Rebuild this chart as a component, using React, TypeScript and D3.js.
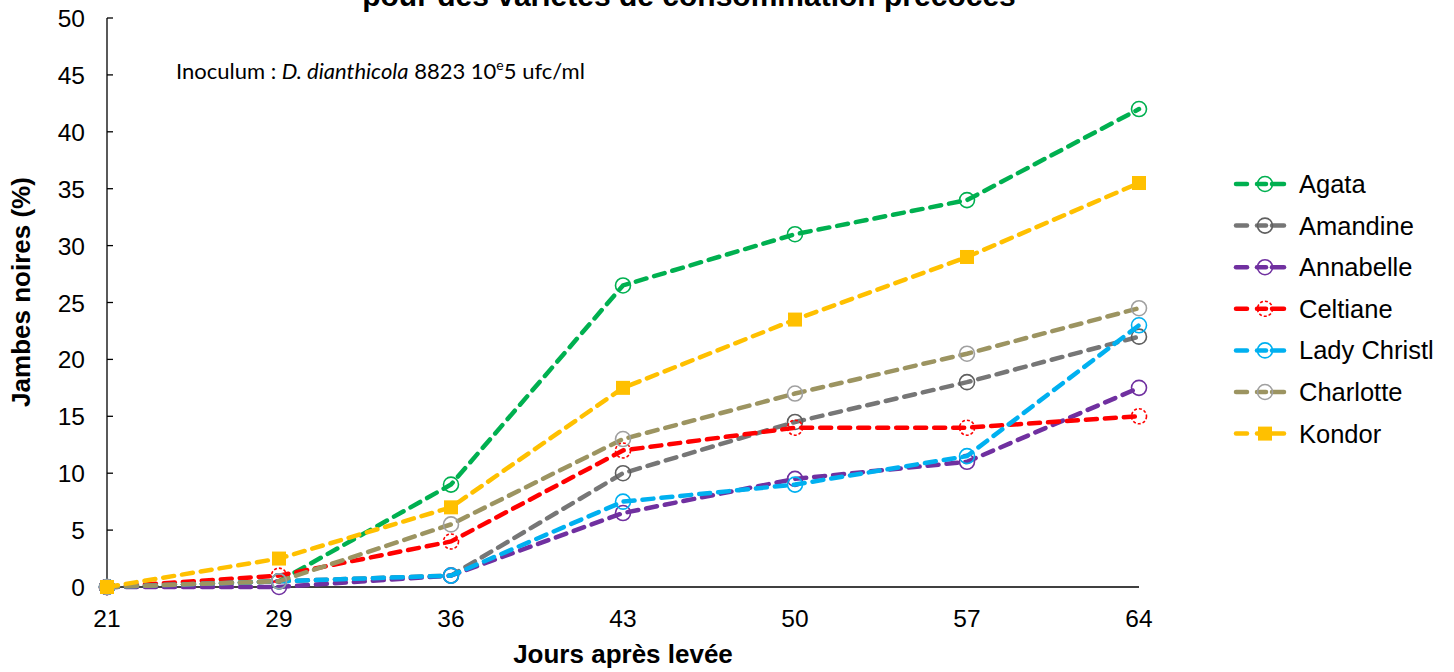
import * as d3 from 'd3'

const days = ['21', '29', '36', '43', '50', '57', '64']

const agata = [0, 0.5, 9, 26.5, 31, 34, 42]
const amandine = [0, 0.5, 1, 10, 14.5, 18, 22]
const annabelle = [0, 0, 1, 6.5, 9.5, 11, 17.5]
const celtiane = [0, 1, 4, 12, 14, 14, 15]
const ladyChristl = [0, 0.5, 1, 7.5, 9, 11.5, 23]
const charlotte = [0, 0.5, 5.5, 13, 17, 20.5, 24.5]
const kondor = [0, 2.5, 7, 17.5, 23.5, 29, 35.5]

const yTicks = d3.range(0, 55, 5)

type Series = {
  name: string
  values: number[]
  color: string
  marker: 'circle' | 'dashedCircle' | 'square'
  markerColor: string
}

// drawing order: back to front
const series: Series[] = [
  { name: 'Agata', values: agata, color: '#00B050', marker: 'circle', markerColor: '#00B050' },
  { name: 'Amandine', values: amandine, color: '#767676', marker: 'circle', markerColor: '#5f5f5f' },
  { name: 'Annabelle', values: annabelle, color: '#7030A0', marker: 'circle', markerColor: '#7030A0' },
  { name: 'Celtiane', values: celtiane, color: '#FF0000', marker: 'dashedCircle', markerColor: '#FF0000' },
  { name: 'Lady Christl', values: ladyChristl, color: '#00B0F0', marker: 'circle', markerColor: '#00B0F0' },
  { name: 'Charlotte', values: charlotte, color: '#9C9461', marker: 'circle', markerColor: '#A0A0A0' },
  { name: 'Kondor', values: kondor, color: '#FFC000', marker: 'square', markerColor: '#FFC000' },
]

const width = 1454
const height = 672
const marginLeft = 107
const plotRight = 1139
const marginTop = 18
const plotBottom = 587

const font = 'Arial, "Liberation Sans", sans-serif'

function Marker({ s, cx, cy }: { s: Series; cx: number; cy: number }) {
  if (s.marker === 'square') {
    return <rect x={cx - 7} y={cy - 7} width={14} height={14} fill={s.markerColor} />
  }
  return (
    <circle
      cx={cx}
      cy={cy}
      r={7.5}
      fill="none"
      stroke={s.markerColor}
      strokeWidth={1.6}
      strokeDasharray={s.marker === 'dashedCircle' ? '3,2' : undefined}
    />
  )
}

export default function App() {
  const x = d3.scalePoint(days, [marginLeft, plotRight])
  const y = d3.scaleLinear([0, 50], [plotBottom, marginTop])

  const line = d3
    .line<number>()
    .x((_, i) => x(days[i])!)
    .y((d) => y(d))

  const legendX = 1233
  const legendY0 = 184
  const legendStep = 41.6

  return (
    <svg
      width={width}
      height={height}
      style={{ position: 'absolute', left: 0, top: 0, background: 'white' }}
      fontFamily={font}
    >
      {/* title, cut by the top edge */}
      <text x={689} y={6} textAnchor="middle" fontSize={30} fontWeight="bold">
        pour des variétés de consommation précoces
      </text>

      {/* y axis, ticks point inward */}
      <line x1={marginLeft} x2={marginLeft} y1={y(50)} y2={y(0)} stroke="black" strokeWidth={1.3} />
      {yTicks.map((t) => (
        <g key={t}>
          <line x1={marginLeft} x2={marginLeft + 6} y1={y(t)} y2={y(t)} stroke="black" strokeWidth={1.3} />
          <text x={85} y={y(t) + 9} textAnchor="end" fontSize={24.5}>
            {t}
          </text>
        </g>
      ))}

      {/* x axis */}
      <line x1={marginLeft} x2={plotRight} y1={y(0)} y2={y(0)} stroke="black" strokeWidth={1.3} />
      {days.map((d) => (
        <text key={d} x={x(d)} y={627} textAnchor="middle" fontSize={24.5}>
          {d}
        </text>
      ))}

      <text x={623} y={663} textAnchor="middle" fontSize={26} fontWeight="bold">
        Jours après levée
      </text>
      <text
        transform="translate(30,292) rotate(-90)"
        textAnchor="middle"
        fontSize={26}
        fontWeight="bold"
      >
        Jambes noires (%)
      </text>

      <text x={176} y={79} fontSize={22} fontFamily="Lato, 'Open Sans', sans-serif">
        Inoculum : <tspan fontStyle="italic">D. dianthicola</tspan> 8823 10
        <tspan fontSize={14} dy={-9}>e</tspan>
        <tspan dy={9}>5 ufc/ml</tspan>
      </text>

      {/* series */}
      {series.map((s) => (
        <g key={s.name}>
          <path
            d={line(s.values) ?? ''}
            fill="none"
            stroke={s.color}
            strokeWidth={4.5}
            strokeDasharray="11,8"
            strokeLinecap="round"
          />
          {s.values.map((v, i) => (
            <Marker key={i} s={s} cx={x(days[i])!} cy={y(v)} />
          ))}
        </g>
      ))}

      {/* legend */}
      {series.map((s, i) => {
        const ly = legendY0 + i * legendStep
        return (
          <g key={s.name}>
            <line x1={legendX + 3} x2={legendX + 14} y1={ly} y2={ly} stroke={s.color} strokeWidth={4.5} strokeLinecap="round" />
            <line x1={legendX + 39} x2={legendX + 51} y1={ly} y2={ly} stroke={s.color} strokeWidth={4.5} strokeLinecap="round" />
            <line x1={legendX + 24} x2={legendX + 33} y1={ly} y2={ly} stroke={s.color} strokeWidth={4.5} strokeLinecap="round" />
            <Marker s={s} cx={legendX + 32} cy={ly} />
            <text x={1299} y={ly + 9} fontSize={25.5}>
              {s.name}
            </text>
          </g>
        )
      })}
    </svg>
  )
}
